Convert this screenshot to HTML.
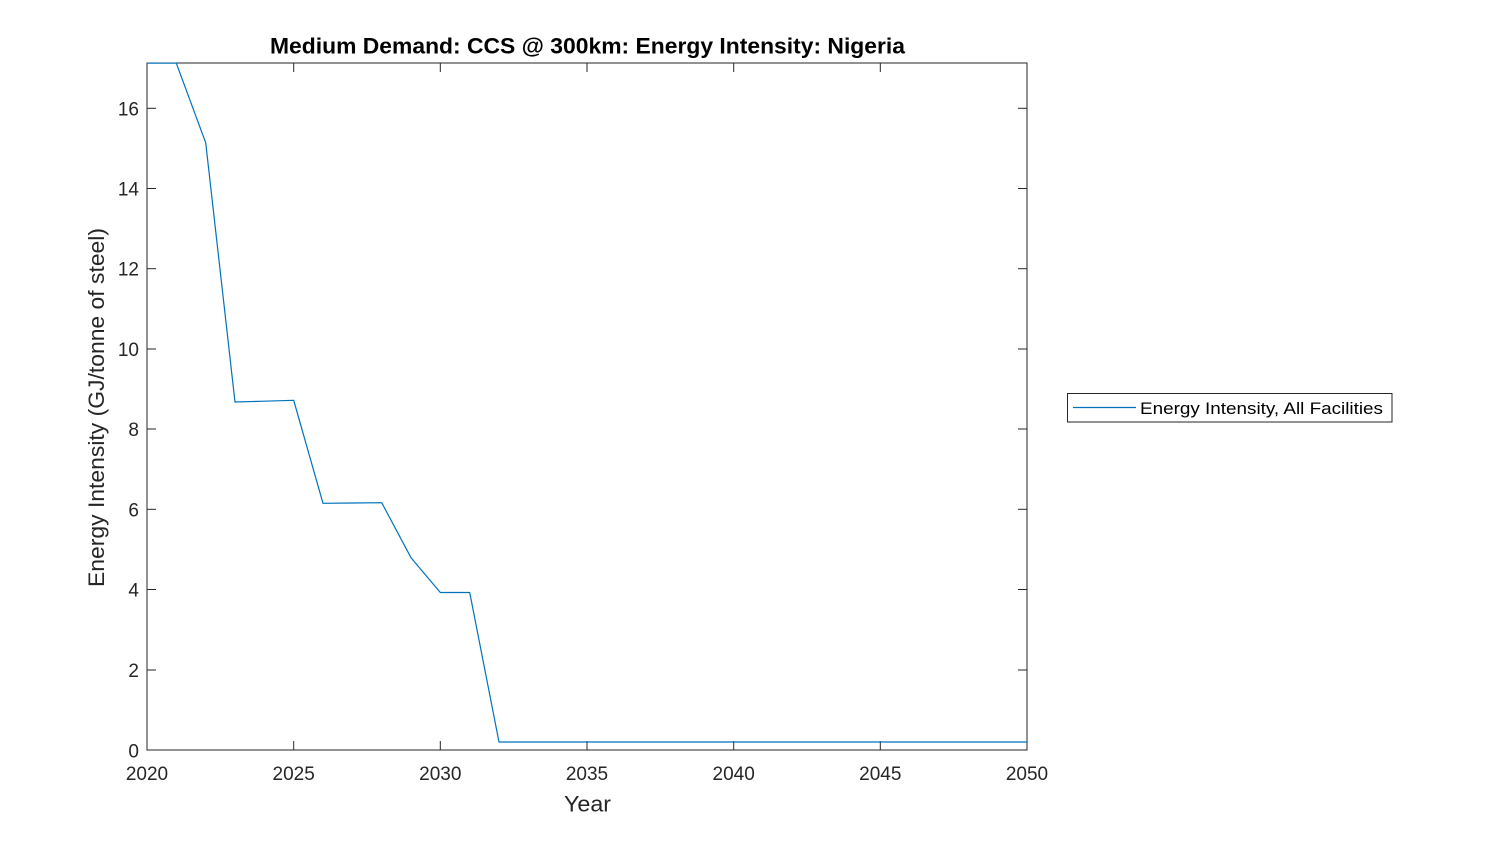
<!DOCTYPE html>
<html>
<head>
<meta charset="utf-8">
<style>
  html, body { margin: 0; padding: 0; background: #ffffff; }
  svg { display: block; }
  text { font-family: "Liberation Sans", Arial, sans-serif; fill: #262626; }
</style>
</head>
<body>
<svg width="1500" height="844" viewBox="0 0 1500 844" xmlns="http://www.w3.org/2000/svg">
  <rect x="0" y="0" width="1500" height="844" fill="#ffffff"/>

  <!-- plot area -->
  <rect x="147" y="63" width="880" height="687" fill="#ffffff"/>

  <!-- axes box -->
  <rect x="147" y="63" width="880" height="687" fill="none" stroke="#262626" stroke-width="1"/>

  <!-- x ticks (bottom & top) -->
  <g stroke="#262626" stroke-width="1">
    <line x1="293.7" y1="750" x2="293.7" y2="741"/>
    <line x1="440.3" y1="750" x2="440.3" y2="741"/>
    <line x1="587" y1="750" x2="587" y2="741"/>
    <line x1="733.7" y1="750" x2="733.7" y2="741"/>
    <line x1="880.3" y1="750" x2="880.3" y2="741"/>
    <line x1="293.7" y1="63" x2="293.7" y2="72"/>
    <line x1="440.3" y1="63" x2="440.3" y2="72"/>
    <line x1="587" y1="63" x2="587" y2="72"/>
    <line x1="733.7" y1="63" x2="733.7" y2="72"/>
    <line x1="880.3" y1="63" x2="880.3" y2="72"/>
    <!-- y ticks (left & right) -->
    <line x1="147" y1="670" x2="156" y2="670"/>
    <line x1="147" y1="589.5" x2="156" y2="589.5"/>
    <line x1="147" y1="509.3" x2="156" y2="509.3"/>
    <line x1="147" y1="429" x2="156" y2="429"/>
    <line x1="147" y1="349" x2="156" y2="349"/>
    <line x1="147" y1="268.7" x2="156" y2="268.7"/>
    <line x1="147" y1="188.5" x2="156" y2="188.5"/>
    <line x1="147" y1="108.3" x2="156" y2="108.3"/>
    <line x1="1027" y1="670" x2="1018" y2="670"/>
    <line x1="1027" y1="589.5" x2="1018" y2="589.5"/>
    <line x1="1027" y1="509.3" x2="1018" y2="509.3"/>
    <line x1="1027" y1="429" x2="1018" y2="429"/>
    <line x1="1027" y1="349" x2="1018" y2="349"/>
    <line x1="1027" y1="268.7" x2="1018" y2="268.7"/>
    <line x1="1027" y1="188.5" x2="1018" y2="188.5"/>
    <line x1="1027" y1="108.3" x2="1018" y2="108.3"/>
  </g>

  <!-- data line (drawn over axes) -->
  <polyline fill="none" stroke="#0072BD" stroke-width="1.2" stroke-linejoin="round"
    points="147,63.2 176.3,63.2 205.7,142.7 235,402 264.3,401.2 293.7,400.3 323,503.3 352.3,503 381.7,502.7 411,557.7 440.3,592.5 469.7,592.5 499,742 1027,742"/>

  <!-- x tick labels -->
  <g font-size="19" text-anchor="middle">
    <text x="147" y="780">2020</text>
    <text x="293.7" y="780">2025</text>
    <text x="440.3" y="780">2030</text>
    <text x="587" y="780">2035</text>
    <text x="733.7" y="780">2040</text>
    <text x="880.3" y="780">2045</text>
    <text x="1027" y="780">2050</text>
  </g>

  <!-- y tick labels -->
  <g font-size="19" text-anchor="end">
    <text x="139" y="757.5">0</text>
    <text x="139" y="677">2</text>
    <text x="139" y="596.5">4</text>
    <text x="139" y="516.3">6</text>
    <text x="139" y="436">8</text>
    <text x="139" y="356">10</text>
    <text x="139" y="275.7">12</text>
    <text x="139" y="195.5">14</text>
    <text x="139" y="115.3">16</text>
  </g>

  <!-- axis labels -->
  <text x="587.5" y="811.5" font-size="22" text-anchor="middle" textLength="47" lengthAdjust="spacingAndGlyphs">Year</text>
  <text transform="translate(104,407.5) rotate(-90)" font-size="22" text-anchor="middle" textLength="359" lengthAdjust="spacingAndGlyphs">Energy Intensity (GJ/tonne of steel)</text>

  <!-- title -->
  <text x="587.5" y="53.5" font-size="22" font-weight="bold" text-anchor="middle" textLength="635" lengthAdjust="spacingAndGlyphs" style="fill:#000">Medium Demand: CCS @ 300km: Energy Intensity: Nigeria</text>

  <!-- legend -->
  <rect x="1067.5" y="393.5" width="324.5" height="28.5" fill="#ffffff" stroke="#262626" stroke-width="1"/>
  <line x1="1073" y1="407.5" x2="1136" y2="407.5" stroke="#0072BD" stroke-width="1.2"/>
  <text x="1140" y="414" font-size="17" textLength="243" lengthAdjust="spacingAndGlyphs" style="fill:#000">Energy Intensity, All Facilities</text>
</svg>
</body>
</html>
